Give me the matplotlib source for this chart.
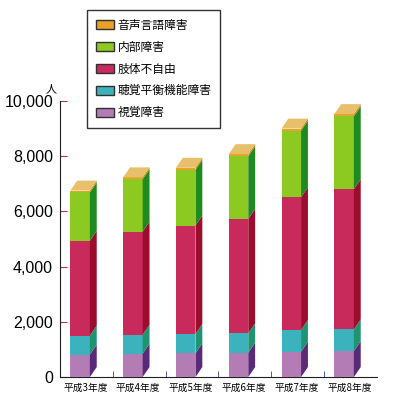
import numpy as np
import matplotlib
matplotlib.use('Agg')
import matplotlib.pyplot as plt
from matplotlib.patches import Polygon, Patch
from matplotlib.ticker import FuncFormatter

plt.rcParams['font.family'] = ['Noto Sans CJK JP', 'DejaVu Sans']

# データ（人）
years = ['平成3年度', '平成4年度', '平成5年度', '平成6年度', '平成7年度', '平成8年度']
shikaku = [810, 845, 860, 880, 915, 940]        # 視覚障害
choukaku = [690, 690, 700, 700, 790, 785]       # 聴覚平衡機能障害
shitai = [3430, 3730, 3925, 4145, 4805, 5075]   # 肢体不自由
naibu = [1750, 1895, 2015, 2265, 2405, 2635]    # 内部障害
onsei = [70, 70, 75, 80, 80, 85]                # 音声言語障害

series = [
    ('視覚障害', shikaku, '#b47cb4', '#5a2a78'),
    ('聴覚平衡機能障害', choukaku, '#3cb2bc', '#1f9470'),
    ('肢体不自由', shitai, '#c82a5c', '#9c0c2c'),
    ('内部障害', naibu, '#8cca22', '#1f8a1f'),
    ('音声言語障害', onsei, '#e8a228', '#c88418'),
]
top_color = '#e8c06c'

fig = plt.figure(figsize=(3.95, 4.0), dpi=100)
ax = fig.add_axes([0.152, 0.0575, 0.802, 0.6905])

x = np.arange(len(years))
w = 0.37
dx = 0.13    # 奥行き（横）
dy = 360     # 奥行き（縦）

bottom = np.zeros(len(years))
for name, vals, c, cside in series:
    vals = np.array(vals, dtype=float)
    ax.bar(x, vals, w, bottom=bottom, color=c, edgecolor='none', zorder=3)
    for i in range(len(years)):
        xr = x[i] + w / 2
        b, t = bottom[i], bottom[i] + vals[i]
        ax.add_patch(Polygon([(xr, b), (xr + dx, b + dy), (xr + dx, t + dy), (xr, t)],
                             closed=True, color=cside, lw=0, zorder=3, clip_on=False))
    bottom = bottom + vals

# 上面
for i in range(len(years)):
    xl, xr, T = x[i] - w / 2, x[i] + w / 2, bottom[i]
    ax.add_patch(Polygon([(xl, T), (xl + dx, T + dy), (xr + dx, T + dy), (xr, T)],
                         closed=True, color=top_color, lw=0, zorder=3, clip_on=False))

ax.set_xlim(-0.38, 5.62)
ax.set_ylim(0, 10000)
ax.set_yticks(np.arange(0, 10001, 2000))
ax.yaxis.set_major_formatter(FuncFormatter(lambda v, p: f'{int(v):,}'))
for lab in ax.get_yticklabels():
    lab.set_family('Liberation Sans')
    lab.set_fontsize(11.5)
ax.tick_params(axis='y', direction='in', length=5, color='#c03040', pad=5)

ax.set_xticks(x + 0.1)
ax.set_xticklabels(years, fontsize=7)
ax.tick_params(axis='x', length=0, pad=4)
ax.set_xticks(x[:-1] + 0.62, minor=True)
ax.tick_params(axis='x', which='minor', direction='in', length=4, color='#2a4a90')

for s in ['top', 'right']:
    ax.spines[s].set_visible(False)
ax.spines['left'].set_color('#202020')
ax.spines['bottom'].set_color('#202020')

ax.annotate('人', xy=(0, 1), xycoords='axes fraction', xytext=(-6.5, 5),
            textcoords='offset points', ha='center', va='bottom', fontsize=8)

handles = [Patch(facecolor=c, edgecolor='#303030', label=name)
           for name, vals, c, cside in series[::-1]]
fig.legend(handles=handles, loc='upper left', bbox_to_anchor=(0.22, 0.975),
           fontsize=8.5, frameon=True, fancybox=False, edgecolor='black',
           handlelength=1.55, handleheight=0.8, labelspacing=0.75,
           handletextpad=0.3, borderpad=0.75, borderaxespad=0)

plt.savefig('out.png', dpi=100)
